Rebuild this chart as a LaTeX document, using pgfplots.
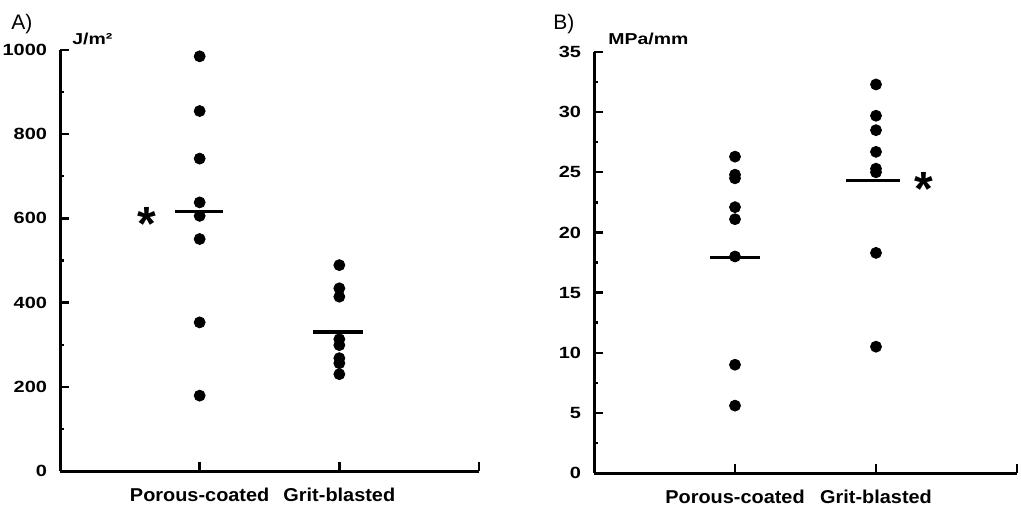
\documentclass[border=0pt]{standalone}
\usepackage{fontspec}
\setmainfont{Liberation Sans}
\newfontfamily\tickfont[FakeStretch=1.23]{Liberation Sans}
\newfontfamily\catfont[FakeStretch=1.07]{Liberation Sans}
\usepackage{pgfplots}
\pgfplotsset{compat=1.18}

\pgfplotsset{
  dotplot/.style={
    scale only axis, height=210.5pt,
    xmin=0, xmax=3,
    axis x line=bottom, axis y line=left,
    every outer x axis line/.append style={-, line width=1.5pt},
    every outer y axis line/.append style={-, line width=1.5pt},
    tick align=inside,
    major tick length=4.5pt, minor tick length=2.2pt,
    every tick/.style={black, line width=1.2pt},
    xtick={1,2,3}, xticklabels={Porous-coated,Grit-blasted,{}},
    minor x tick num=0, minor y tick num=1,
    xticklabel style={font=\catfont\bfseries\fontsize{9.3}{11}\selectfont, yshift=-5pt},
    yticklabel style={font=\tickfont\bfseries\fontsize{8.1}{9}\selectfont, xshift=-3pt},
    /pgf/number format/assume math mode=true,
    /pgf/number format/1000 sep={},
    clip=false,
  },
  dots/.style={only marks, mark=*, mark size=2.75pt, black},
  mean/.style={black, line width=1.6pt, no marks},
}
\tikzset{star/.style={font=\bfseries\fontsize{24}{24}\selectfont, inner sep=0pt}}

\begin{document}
\begin{tikzpicture}
\useasboundingbox (0,0) rectangle (510.5pt,-253.5pt);

% A) work of fracture
\begin{axis}[dotplot, at={(30pt,-235.5pt)}, anchor=south west,
    width=209.5pt, ymin=0, ymax=1000, ytick={0,200,...,1000}]
\addplot[dots] coordinates {(1,985) (1,855) (1,742) (1,638) (1,606) (1,551) (1,353) (1,179)};
\addplot[dots] coordinates {(2,489) (2,434) (2,414) (2,313) (2,299) (2,268) (2,256) (2,230)};
\addplot[mean] coordinates {(0.82,617) (1.17,617)};
\addplot[mean] coordinates {(1.81,330) (2.17,330)};
\node[star, anchor=north] at (axis cs:0.62,628) {*};
\end{axis}

% B) stiffness
\begin{axis}[dotplot, at={(297pt,-236.5pt)}, anchor=south west,
    width=211.5pt, ymin=0, ymax=35, ytick={0,5,...,35}]
\addplot[dots] coordinates {(1,26.3) (1,24.8) (1,24.5) (1,22.1) (1,21.1) (1,18.0) (1,9.0) (1,5.6)};
\addplot[dots] coordinates {(2,32.3) (2,29.7) (2,28.5) (2,26.7) (2,25.3) (2,25.0) (2,18.3) (2,10.5)};
\addplot[mean] coordinates {(0.82,17.9) (1.18,17.9)};
\addplot[mean] coordinates {(1.79,24.3) (2.17,24.3)};
\node[star, anchor=north] at (axis cs:2.34,25.0) {*};
\end{axis}

\node[anchor=base west, inner sep=0pt, font=\fontsize{10.5}{12}\selectfont] at (5.5pt,-15pt) {A)};
\node[anchor=base west, inner sep=0pt, font=\fontsize{10.5}{12}\selectfont] at (276.5pt,-15pt) {B)};
\node[anchor=base west, inner sep=0pt, font=\tickfont\bfseries\fontsize{7.9}{9}\selectfont] at (36pt,-22.3pt) {J/m²};
\node[anchor=base west, inner sep=0pt, font=\tickfont\bfseries\fontsize{7.9}{9}\selectfont] at (304pt,-22.3pt) {MPa/mm};
\end{tikzpicture}
\end{document}
